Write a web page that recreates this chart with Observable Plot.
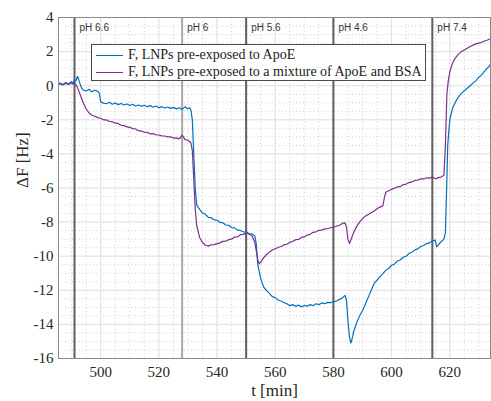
<!DOCTYPE html>
<html><head><meta charset="utf-8">
<script src="https://cdn.jsdelivr.net/npm/d3@7"></script>
<script src="https://cdn.jsdelivr.net/npm/@observablehq/plot@0.6"></script>
<style>
body{margin:0;background:#fff}
#chart{position:relative;width:491px;height:401px}
.leg{position:absolute;left:91px;top:44px;width:333px;height:35px;border:1px solid #4a4a4a;background:#fff;font-family:"Liberation Serif",serif;font-size:14px;color:#222}
.row{position:absolute;left:0;height:16px;line-height:16px;white-space:nowrap}
.row span.sw{position:absolute;left:4px;top:8px;width:27px;height:0;border-top:1.3px solid}
.row span.tx{position:absolute;left:36px;top:0}
</style>
</head><body><div id="chart"></div><script>
// Blue series: LNPs pre-exposed to ApoE
const tApoE = [485.5,486,487,488,489,490,490.5,491,491.5,492,492.5,493,493.5,494,495,496,497,498,499,499.5,
500,501,502,503,504,505,506,507,508,509,510,511,512,513,514,515,516,517,518,519,520,521,522,523,524,525,526,527,528,529,530,530.5,531,531.5,532,532.5,533,
534,535,536,537,538,539,540,541,542,543,544,545,546,547,548,549,550,551,552,553,553.5,554,555,556,557,558,559,560,561,562,563,564,565,566,567,568,569,570,
571,572,573,574,575,576,577,578,579,580,581,582,583,584,584.5,585,585.5,586,586.5,587,588,589,590,591,592,593,594,595,596,597,598,599,600,
601,602,603,604,605,606,607,608,609,610,611,612,613,614,615,615.5,616,617,618,618.5,619,619.3,619.7,620,621,622,623,624,625,626,627,628,629,630,631,632,633,634];
const fApoE = [0.10,0.16,0.07,0.19,0.11,0.24,0.14,0.36,0.28,0.55,0.33,0.05,-0.16,-0.25,-0.31,-0.21,-0.36,-0.27,-0.33,-0.42,
-0.95,-1.02,-1.06,-0.97,-1.09,-1.01,-1.11,-1.04,-1.13,-1.07,-1.16,-1.09,-1.19,-1.13,-1.21,-1.15,-1.23,-1.17,-1.26,-1.19,-1.29,-1.23,-1.31,-1.25,-1.33,-1.27,-1.36,-1.29,-1.39,-1.24,-1.36,-1.29,-1.41,-2.0,-4.0,-6.0,-7.0,
-7.25,-7.47,-7.54,-7.72,-7.74,-7.87,-7.89,-8.02,-8.04,-8.17,-8.19,-8.32,-8.34,-8.47,-8.49,-8.57,-8.58,-8.67,-8.69,-8.82,-9.3,-10.5,-11.3,-11.8,-12.02,-12.18,-12.37,-12.43,-12.57,-12.63,-12.72,-12.79,-12.9,-12.84,-12.94,-12.87,-12.97,-12.89,
-12.93,-12.84,-12.9,-12.79,-12.84,-12.74,-12.79,-12.71,-12.72,-12.67,-12.63,-12.54,-12.46,-12.3,-12.6,-13.8,-14.7,-15.1,-14.8,-14.4,-13.9,-13.5,-13.2,-12.8,-12.4,-12.0,-11.6,-11.4,-11.2,-11.02,-10.83,-10.72,-10.53,
-10.47,-10.28,-10.22,-10.06,-10.0,-9.83,-9.77,-9.63,-9.57,-9.43,-9.37,-9.26,-9.22,-9.1,-9.06,-9.45,-9.35,-9.15,-9.0,-8.6,-5.5,-3.5,-2.6,-2.0,-1.3,-0.95,-0.65,-0.45,-0.3,-0.15,0.0,0.15,0.3,0.5,0.65,0.85,1.05,1.25];
// Purple series: LNPs pre-exposed to ApoE + BSA
const tMix = [485.5,486,487,488,489,490,490.5,491,491.5,492,493,494,495,496,497,498,499,500,501,502,503,504,505,506,507,508,509,510,511,512,513,514,515,516,517,518,519,520,
521,522,523,524,525,526,527,528,529,530,531,531.5,532,532.5,533,534,535,536,537,538,539,540,541,542,543,544,545,546,547,548,549,550,551,552,553,554,554.5,555,556,557,558,559,560,
561,562,563,564,565,566,567,568,569,570,571,572,573,574,575,576,577,578,579,580,581,582,583,584,584.5,585,585.5,586,587,588,589,590,591,592,593,594,595,596,597,597.5,598,599,600,
601,602,603,604,605,606,607,608,609,610,611,612,613,614,615,616,617,618,618.5,619,619.5,620,621,622,623,624,625,626,627,628,629,630,631,632,633,634];
const fMix = [0.05,0.11,0.04,0.13,0.07,0.16,0.09,0.18,0.05,-0.10,-0.55,-1.0,-1.35,-1.6,-1.73,-1.79,-1.87,-1.91,-2.0,-2.01,-2.1,-2.11,-2.2,-2.21,-2.32,-2.34,-2.42,-2.44,-2.52,-2.54,-2.64,-2.66,-2.72,-2.74,-2.82,-2.81,-2.88,-2.89,
-2.94,-2.95,-3.0,-3.0,-3.07,-3.06,-3.12,-2.9,-3.16,-3.2,-3.35,-3.8,-5.5,-7.2,-8.2,-8.9,-9.2,-9.36,-9.41,-9.33,-9.32,-9.26,-9.22,-9.13,-9.12,-9.03,-9.0,-8.88,-8.87,-8.74,-8.72,-8.64,-8.71,-8.8,-9.2,-10.2,-10.45,-10.35,-10.1,-9.9,-9.76,-9.64,-9.56,
-9.49,-9.43,-9.34,-9.3,-9.19,-9.14,-9.03,-9.02,-8.9,-8.87,-8.76,-8.72,-8.6,-8.57,-8.48,-8.47,-8.4,-8.39,-8.33,-8.3,-8.24,-8.2,-8.08,-8.05,-8.3,-9.0,-9.25,-9.05,-8.6,-8.25,-8.0,-7.8,-7.65,-7.55,-7.45,-7.35,-7.22,-7.12,-7.05,-6.6,-6.25,-6.16,-6.07,
-6.02,-5.93,-5.92,-5.8,-5.77,-5.68,-5.64,-5.56,-5.54,-5.46,-5.47,-5.4,-5.42,-5.36,-5.46,-5.39,-5.36,-5.25,-3.5,-0.5,0.3,0.8,1.35,1.65,1.85,2.0,2.1,2.2,2.3,2.38,2.45,2.5,2.55,2.62,2.68,2.75];
// pH change markers
const phT = [491, 528, 550, 580, 614];
const phLabel = ["pH 6.6", "pH 6", "pH 5.6", "pH 4.6", "pH 7.4"];
const phLight = [false, true, false, false, false];
const xTicks = [500, 520, 540, 560, 580, 600, 620];
const yTicks = [4, 2, 0, -2, -4, -6, -8, -10, -12, -14, -16];
const xMinor = d3.range(490, 635, 5);
const yMinor = d3.range(-16, 4.01, 0.5);
const seriesNames = ["F, LNPs pre-exposed to ApoE", "F, LNPs pre-exposed to a mixture of ApoE and BSA"];
const seriesColors = ["#0072BD", "#7E2F8E"];

const apoe = tApoE.map((t, i) => ({t, f: fApoE[i]}));
const mix = tMix.map((t, i) => ({t, f: fMix[i]}));
const ph = phT.map((t, i) => ({t, label: phLabel[i], light: phLight[i]}));
const serif = "Liberation Serif, Times New Roman, serif";

const chart = Plot.plot({
  width: 491, height: 401,
  marginLeft: 58, marginRight: 1, marginTop: 17, marginBottom: 43,
  style: {fontFamily: serif, fontSize: "15px", color: "#262626", background: "#fff"},
  x: {domain: [485.5, 634]},
  y: {domain: [-16, 4]},
  marks: [
    Plot.gridX(xMinor, {stroke: "#cfcfcf", strokeOpacity: 1, strokeDasharray: "1,2.5"}),
    Plot.gridY(yMinor, {stroke: "#cfcfcf", strokeOpacity: 1, strokeDasharray: "1,2.5"}),
    Plot.gridX(xTicks, {stroke: "#e2e2e2", strokeOpacity: 1}),
    Plot.gridY(yTicks, {stroke: "#e2e2e2", strokeOpacity: 1}),
    Plot.ruleX(ph.filter(d => !d.light), {x: "t", stroke: "#5e5e5e", strokeWidth: 2}),
    Plot.ruleX(ph.filter(d => d.light), {x: "t", stroke: "#a8a8a8", strokeWidth: 2}),
    Plot.text(ph, {x: "t", text: "label", frameAnchor: "top", lineAnchor: "middle", dy: 10, dx: 5, textAnchor: "start", fontFamily: "Liberation Sans, Arial, sans-serif", fontSize: 10, fill: "#333"}),
    Plot.line(apoe, {x: "t", y: "f", stroke: seriesColors[0], strokeWidth: 1.2}),
    Plot.line(mix, {x: "t", y: "f", stroke: seriesColors[1], strokeWidth: 1.2}),
    Plot.frame({stroke: "#8a8a8a"}),
    Plot.axisX(xTicks, {tickSize: 0, tickPadding: 8, fontSize: 15, fontFamily: serif, label: null, tickFormat: d => String(d)}),
    Plot.axisY(yTicks, {tickSize: 0, tickPadding: 5, fontSize: 15, fontFamily: serif, label: null, tickFormat: d => String(d)}),
    Plot.text(["t [min]"], {frameAnchor: "bottom", lineAnchor: "middle", dy: 32, fontSize: 17, fontFamily: serif, fill: "#262626"}),
    Plot.text(["\u0394F [Hz]"], {frameAnchor: "left", lineAnchor: "middle", dx: -36, rotate: -90, fontSize: 17, fontFamily: serif, fill: "#262626"})
  ]
});
const root = document.getElementById("chart");
root.appendChild(chart);
const leg = document.createElement("div");
leg.className = "leg";
seriesNames.forEach((n, i) => {
  const r = document.createElement("div");
  r.className = "row";
  r.style.top = (i === 0 ? 2 : 19) + "px";
  r.innerHTML = `<span class="sw" style="border-color:${seriesColors[i]}"></span><span class="tx">${n}</span>`;
  leg.appendChild(r);
});
root.appendChild(leg);
</script></body></html>
